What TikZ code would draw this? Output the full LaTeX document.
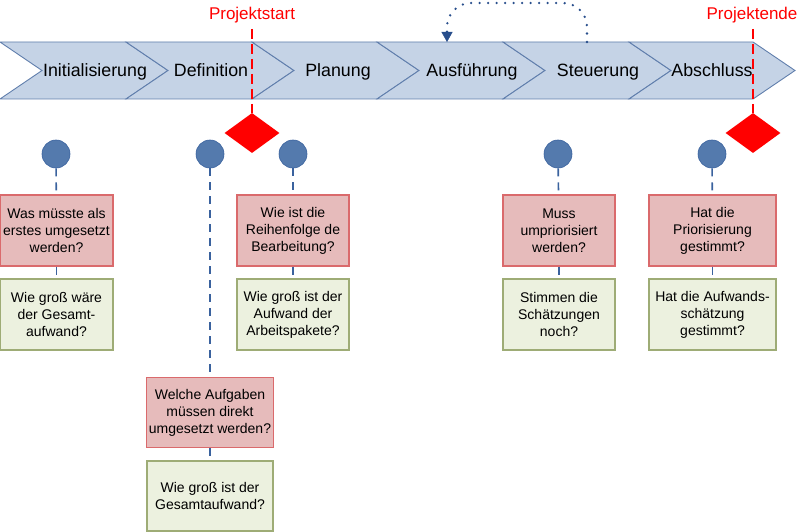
\documentclass[tikz,border=0pt]{standalone}
\usepackage{fontspec}
\setmainfont{Liberation Sans}
\usepackage{tikz}
\usetikzlibrary{arrows.meta,shapes.geometric}

\definecolor{chevfill}{RGB}{197,211,230}
\definecolor{chevline}{RGB}{96,126,172}
\definecolor{qfill}{RGB}{230,187,187}
\definecolor{qline}{RGB}{218,106,108}
\definecolor{afill}{RGB}{236,241,223}
\definecolor{aline}{RGB}{158,172,118}
\definecolor{dotblue}{RGB}{84,122,173}
\definecolor{linkblue}{RGB}{58,98,158}
\definecolor{loopblue}{RGB}{40,78,140}

\begin{document}
\begin{tikzpicture}[x=1pt,y=-1pt,
  chev/.style={fill=chevfill,draw=chevline,line width=0.9pt},
  phase/.style={anchor=base,font=\fontsize{17.8}{21}\selectfont},
  mslabel/.style={anchor=base,text=red,font=\fontsize{17}{20}\selectfont},
  msline/.style={draw=red,line width=1.3pt,dash pattern=on 10pt off 5pt},
  ms/.style={diamond,fill=red,inner sep=0pt,minimum width=55,minimum height=40,aspect=1.375},
  point/.style={circle,fill=dotblue,draw=linkblue,line width=0.6pt,minimum size=28,inner sep=0pt},
  qbox/.style={draw=qline,fill=qfill,line width=1.1pt,align=center,minimum height=71,inner sep=2pt,font=\fontsize{14}{17}\selectfont},
  abox/.style={draw=aline,fill=afill,line width=1.1pt,align=center,minimum height=71,inner sep=2pt,font=\fontsize{14}{17}\selectfont},
  link/.style={draw=linkblue,line width=1.6pt,dash pattern=on 8pt off 6pt},
  repeat/.style={draw=loopblue,line width=2.6pt,line cap=round,dash pattern=on 0pt off 8.5pt,rounded corners=24,
    -{Triangle[length=10pt,width=11pt,line width=0.5pt]}}]
\useasboundingbox (0,0) rectangle (800,532);

% phases
\foreach \b/\e in {0/126,126/252,252/377,377/503,503/629,629/753}
  \draw[chev] (\b,42) -- (\e,42) -- (\e+42,70.5) -- (\e,99) -- (\b,99) -- (\b+42,70.5) -- cycle;
\node[phase] (init) at (95,77) {Initialisierung};
\node[phase] (defi) at (211,77) {Definition};
\node[phase] (plan) at (338,77) {Planung};
\node[phase] (ausf) at (472,77) {Ausführung};
\node[phase] (steu) at (598,77) {Steuerung};
\node[phase] (absc) at (712,77) {Abschluss};

% loop back
\coordinate (loopstart) at (587,42);
\coordinate (loopend) at (447,42);
\draw[repeat] (loopstart) -- (587,3) -- (447,3) -- (loopend);

% milestones
\node[mslabel] (pstart) at (252,20) {Projektstart};
\node[mslabel] (pend) at (752,20) {Projektende};
\node[ms] (msstart) at (252,133) {};
\node[ms] (msend) at (753,133) {};
\draw[msline] (252,29) -- (msstart.north);
\draw[msline] (753,29) -- (msend.north);

% questions
\node[point] (c1) at (56,154) {};
\node[point] (c2) at (210,154) {};
\node[point] (c3) at (293,154) {};
\node[point] (c4) at (558,154) {};
\node[point] (c5) at (712,154) {};

\node[qbox,minimum width=113] (q1) at (56.5,230.5) {Was müsste als\\erstes umgesetzt\\werden?};
\node[abox,minimum width=113] (a1) at (56.5,314.5) {Wie groß wäre\\der Gesamt-\\aufwand?};
\node[qbox,minimum width=126,minimum height=70] (q2) at (210,412.5) {Welche Aufgaben\\müssen direkt\\umgesetzt werden?};
\node[abox,minimum width=126,minimum height=70] (a2) at (210,496) {Wie groß ist der\\Gesamtaufwand?};
\node[qbox,minimum width=112] (q3) at (293,230.5) {Wie ist die\\Reihenfolge de\\Bearbeitung?};
\node[abox,minimum width=112] (a3) at (293,314.5) {Wie groß ist der\\Aufwand der\\Arbeitspakete?};
\node[qbox,minimum width=112] (q4) at (559,230.5) {Muss\\umpriorisiert\\werden?};
\node[abox,minimum width=112] (a4) at (559,314.5) {Stimmen die\\Schätzungen\\noch?};
\node[qbox,minimum width=127] (q5) at (712.5,230.5) {Hat die\\Priorisierung\\gestimmt?};
\node[abox,minimum width=127] (a5) at (712.5,314.5) {Hat die Aufwands-\\schätzung\\gestimmt?};

\foreach \i in {1,...,5} {
  \draw[link] (c\i) -- (q\i);
  \draw[link] (q\i) -- (a\i);
}
\end{tikzpicture}
\end{document}
